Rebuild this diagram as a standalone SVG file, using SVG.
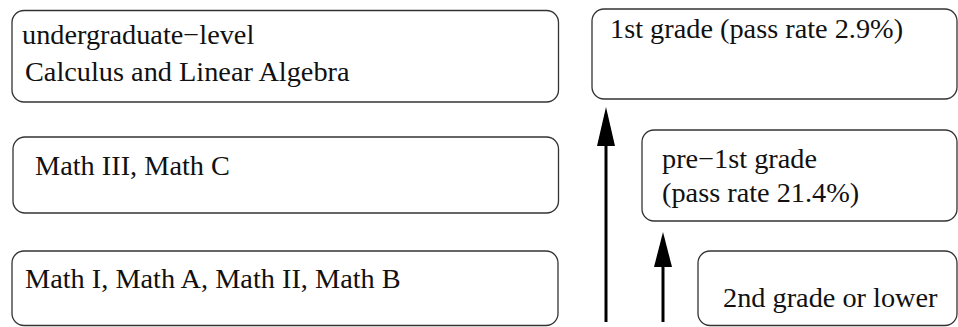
<svg xmlns="http://www.w3.org/2000/svg" width="958" height="327" viewBox="0 0 958 327">
  <style>
    .box { fill: #ffffff; stroke: #333333; stroke-width: 1.3; }
    .lbl { font-family: "Liberation Serif", "Times New Roman", serif; font-size: 28.3px; fill: #111111; }
    .arr { stroke: #000000; stroke-width: 3; fill: none; }
    .head { fill: #000000; stroke: none; }
  </style>
  <rect width="958" height="327" fill="#ffffff"/>
  <g id="node-undergrad">
    <rect class="box" x="12" y="10.5" width="546.5" height="91.5" rx="12" ry="12"/>
    <text class="lbl" x="22" y="44">undergraduate−level</text>
    <text class="lbl" x="25" y="81">Calculus and Linear Algebra</text>
  </g>
  <g id="node-math3">
    <rect class="box" x="13" y="137" width="545.5" height="76" rx="12" ry="12"/>
    <text class="lbl" x="35" y="175">Math III, Math C</text>
  </g>
  <g id="node-math1">
    <rect class="box" x="12" y="251" width="546" height="74.5" rx="12" ry="12"/>
    <text class="lbl" x="25" y="288">Math I, Math A, Math II, Math B</text>
  </g>
  <g id="node-grade1">
    <rect class="box" x="592" y="9" width="365" height="90" rx="12" ry="12"/>
    <text class="lbl" x="610" y="38">1st grade (pass rate 2.9%)</text>
  </g>
  <g id="node-pre1">
    <rect class="box" x="642" y="130" width="315" height="91" rx="12" ry="12"/>
    <text class="lbl" x="662" y="168">pre−1st grade</text>
    <text class="lbl" x="662" y="202">(pass rate 21.4%)</text>
  </g>
  <g id="node-grade2">
    <rect class="box" x="698" y="251" width="259" height="74.5" rx="12" ry="12"/>
    <text class="lbl" x="723" y="307">2nd grade or lower</text>
  </g>
  <g id="connectors">
    <line class="arr" x1="606" y1="322" x2="606" y2="140"/>
    <polygon class="head" points="606,107 615,146 597,146"/>
    <line class="arr" x1="663" y1="322" x2="663" y2="262"/>
    <polygon class="head" points="663,232 672,267 654,267"/>
  </g>
</svg>
